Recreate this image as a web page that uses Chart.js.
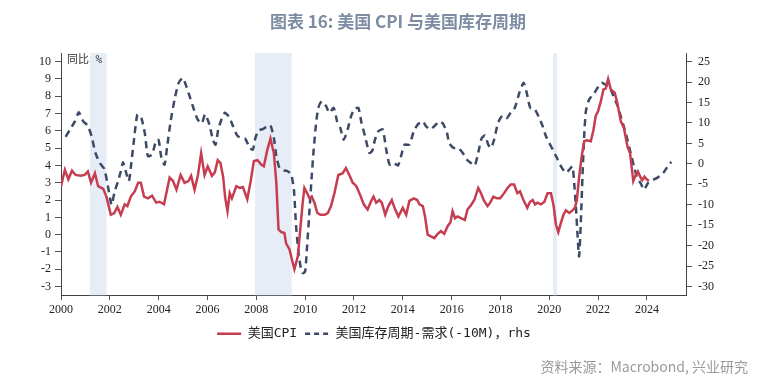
<!DOCTYPE html>
<html lang="zh">
<head>
<meta charset="UTF-8"/>
<title>美国 CPI 与美国库存周期</title>
<script src="https://cdn.jsdelivr.net/npm/chart.js@4.4.1/dist/chart.umd.min.js"></script>
<style>
  html, body { margin: 0; padding: 0; background: #fff; }
  #wrap { width: 759px; height: 385px; }
</style>
</head>
<body>
<div id="wrap"><canvas id="chart"></canvas></div>
<script>
// 美国CPI 同比 (%), left axis
const cpiDates = [2000.0,2000.16,2000.3,2000.45,2000.6,2000.8,2000.97,2001.1,2001.23,2001.39,2001.52,2001.73,2001.86,
  2002.04,2002.18,2002.31,2002.45,2002.61,2002.72,2002.86,2003.02,2003.16,2003.27,2003.4,2003.56,2003.73,2003.9,
  2004.04,2004.22,2004.45,2004.59,2004.73,2004.9,2005.06,2005.22,2005.33,2005.47,2005.61,2005.74,2005.88,2006.01,
  2006.18,2006.3,2006.42,2006.53,2006.64,2006.72,2006.82,2006.91,2007.0,2007.18,2007.32,2007.45,2007.63,2007.77,
  2007.9,2008.05,2008.2,2008.31,2008.45,2008.58,2008.72,2008.82,2008.91,2009.02,2009.15,2009.22,2009.36,2009.46,
  2009.56,2009.7,2009.8,2009.9,2009.97,2010.08,2010.18,2010.27,2010.38,2010.5,2010.63,2010.8,2010.93,2011.06,
  2011.2,2011.36,2011.54,2011.67,2011.81,2011.95,2012.1,2012.28,2012.4,2012.56,2012.69,2012.8,2012.91,2013.04,
  2013.14,2013.28,2013.41,2013.55,2013.66,2013.82,2014.0,2014.14,2014.27,2014.45,2014.59,2014.68,2014.82,2014.91,
  2015.02,2015.15,2015.29,2015.43,2015.56,2015.7,2015.84,2015.95,2016.04,2016.14,2016.24,2016.38,2016.54,2016.65,
  2016.79,2016.93,2017.09,2017.2,2017.31,2017.47,2017.58,2017.71,2017.85,2017.99,2018.15,2018.29,2018.42,2018.56,
  2018.69,2018.8,2018.94,2019.1,2019.21,2019.32,2019.42,2019.52,2019.66,2019.8,2019.93,2020.07,2020.18,2020.27,
  2020.37,2020.48,2020.58,2020.68,2020.82,2020.95,2021.05,2021.13,2021.22,2021.32,2021.43,2021.54,2021.7,2021.81,
  2021.9,2022.0,2022.11,2022.22,2022.31,2022.41,2022.52,2022.68,2022.79,2022.93,2023.06,2023.2,2023.31,2023.44,
  2023.54,2023.63,2023.74,2023.81,2023.9,2023.99,2024.08];
const cpiValues = [2.8,3.75,3.2,3.7,3.45,3.4,3.45,3.65,3.0,3.55,2.8,2.65,2.2,
  1.15,1.25,1.6,1.15,1.75,1.65,2.2,2.5,3.0,3.0,2.2,2.1,2.25,1.85,
  1.9,1.75,3.3,3.1,2.6,3.45,3.0,3.1,3.4,2.6,3.45,4.7,3.45,3.95,
  3.4,3.6,4.3,4.15,3.35,2.2,1.35,2.4,2.1,2.8,2.7,2.75,2.05,3.1,
  4.25,4.3,4.05,3.95,4.9,5.55,4.7,3.0,0.3,0.15,0.1,-0.5,-0.85,-1.45,
  -2.0,-1.25,0.3,1.85,2.7,2.4,2.1,2.2,1.85,1.25,1.15,1.15,1.25,1.65,
  2.4,3.45,3.55,3.85,3.45,3.0,2.8,2.2,1.75,1.45,1.9,2.2,1.85,2.0,
  1.85,1.15,1.65,2.0,1.55,1.05,1.55,1.15,1.95,2.1,2.0,1.75,1.65,1.05,
  0.0,-0.1,-0.2,0.05,0.2,0.05,0.5,0.7,1.35,0.95,1.05,0.95,0.85,1.45,
  1.7,2.0,2.7,2.4,2.0,1.65,1.85,2.2,2.1,2.1,2.4,2.7,2.9,2.9,
  2.4,2.5,2.0,1.55,1.9,2.0,1.75,1.85,1.75,1.9,2.4,2.4,1.65,0.6,
  0.15,0.7,1.15,1.4,1.25,1.4,1.55,2.0,3.3,4.45,5.4,5.45,5.4,6.05,
  6.85,7.15,7.7,8.4,8.45,9.0,8.4,8.2,7.6,6.55,6.15,5.1,4.7,3.1,
  3.45,3.65,3.3,3.15,3.35,3.2,3.1];

// 美国库存周期-需求(-10M), right axis
const invDates = [2000.19,2000.37,2000.57,2000.73,2000.91,2001.09,2001.25,2001.41,2001.59,2001.77,2001.9,2002.07,
  2002.2,2002.34,2002.45,2002.54,2002.65,2002.78,2002.88,2002.99,2003.13,2003.29,2003.43,2003.56,2003.73,2003.9,
  2004.0,2004.1,2004.24,2004.35,2004.49,2004.65,2004.82,2004.99,2005.13,2005.27,2005.44,2005.6,2005.77,2005.9,
  2006.08,2006.22,2006.33,2006.44,2006.57,2006.71,2006.87,2007.05,2007.22,2007.39,2007.55,2007.73,2007.86,2007.96,
  2008.1,2008.27,2008.45,2008.58,2008.72,2008.82,2008.95,2009.13,2009.29,2009.43,2009.54,2009.63,2009.73,2009.81,
  2009.9,2010.0,2010.08,2010.18,2010.27,2010.35,2010.45,2010.54,2010.68,2010.86,2010.99,2011.17,2011.31,2011.44,
  2011.58,2011.74,2011.88,2012.01,2012.18,2012.31,2012.45,2012.63,2012.75,2012.86,2013.0,2013.18,2013.32,2013.46,
  2013.63,2013.8,2013.93,2014.07,2014.27,2014.45,2014.61,2014.82,2014.95,2015.13,2015.29,2015.5,2015.65,2015.81,
  2015.9,2016.08,2016.27,2016.45,2016.63,2016.79,2016.95,2017.09,2017.23,2017.37,2017.5,2017.61,2017.74,2017.9,
  2018.08,2018.26,2018.43,2018.59,2018.77,2018.95,2019.08,2019.22,2019.41,2019.59,2019.73,2019.86,2020.0,2020.14,
  2020.31,2020.48,2020.68,2020.82,2020.95,2021.02,2021.09,2021.16,2021.22,2021.29,2021.36,2021.43,2021.5,2021.63,
  2021.84,2022.0,2022.14,2022.3,2022.45,2022.63,2022.8,2022.95,2023.09,2023.2,2023.33,2023.47,2023.6,2023.74,
  2023.88,2024.04,2024.22,2024.42,2024.56,2024.72,2024.9,2025.0];
const invValues = [6.6,8.4,10.4,12.6,10.4,9.4,6.8,2.7,0.2,-1.2,-4.7,-10,
  -6.7,-4.2,-1.8,0.4,-1.8,-4.2,0.2,5.9,12.1,11.2,7.6,1.9,2.3,5.8,
  5.8,1.9,-0.2,4.3,10.4,15.7,19.8,21,19,16.5,13.4,10.8,9.9,12.1,
  9.6,5.9,4.7,8.4,10.8,12.5,11.6,9.2,6.9,6.3,6.1,3.9,3.5,6.3,
  8.2,8.5,9.2,9.4,6.3,1.9,-1.0,-1.6,-1.8,-2.6,-6.3,-15.3,-21.8,-25,
  -26.7,-26.3,-20.1,-11.2,-3.0,3.5,10,13.7,15.3,14.1,12.5,13.7,10.4,8.8,
  5.9,8.4,11.6,13.4,13.7,10.0,6.8,2.7,3.2,5.9,8.0,8.4,3.5,-0.2,
  0.2,-0.4,1.9,4.7,4.7,8.0,9.6,10.4,9.2,8.4,9.2,10.4,9.8,7.6,
  5.1,3.9,3.9,2.7,1.0,0.2,-0.4,2.7,6.3,6.9,4.7,3.9,5.9,10.0,
  11.8,11.2,12.6,13.7,17.3,19.8,17.3,13.7,13.3,11.2,9.2,6.8,5.1,3.5,
  1.5,-0.6,-2.2,-1.4,-0.6,-4.7,-10.4,-17.7,-22.6,-14.5,-3.0,6.8,12.9,15.7,
  17.3,18.8,19.8,19.4,19.0,16.5,14.1,11.2,8.4,5.9,2.7,-0.6,-3.4,-4.7,
  -6.3,-4.7,-4.0,-3.4,-2.9,-1.8,-0.2,0.5];

// recession shading
const shadeStart = [2001.18, 2007.95, 2020.15];
const shadeEnd = [2001.86, 2009.45, 2020.32];

const xTicks = [2000,2002,2004,2006,2008,2010,2012,2014,2016,2018,2020,2022,2024];
const leftTicks = [-3,-2,-1,0,1,2,3,4,5,6,7,8,9,10];
const rightTicks = [-30,-25,-20,-15,-10,-5,0,5,10,15,20,25];

const toPoints = (xs, ys) => xs.map((x, i) => ({x: x, y: ys[i]}));

const decor = {
  id: 'decor',
  beforeDatasetsDraw(chart) {
    const {ctx, chartArea, scales} = chart;
    ctx.save();
    ctx.fillStyle = '#e7edf6';
    for (let i = 0; i < shadeStart.length; i++) {
      const a = scales.x.getPixelForValue(shadeStart[i]);
      const b = scales.x.getPixelForValue(shadeEnd[i]);
      ctx.fillRect(a, chartArea.top, b - a, chartArea.bottom - chartArea.top);
    }
    ctx.fillStyle = '#333';
    ctx.font = '11px "DejaVu Sans Mono", "Noto Sans CJK SC"';
    ctx.textBaseline = 'middle';
    ctx.fillText('同比 %', chartArea.left + 6, chartArea.top + 7);
    ctx.restore();
  },
  afterDraw(chart) {
    const ctx = chart.ctx;
    ctx.save();
    ctx.fillStyle = '#7d8ca2';
    ctx.font = 'bold 17px "Noto Sans CJK SC"';
    ctx.textAlign = 'center';
    ctx.textBaseline = 'middle';
    ctx.fillText('图表 16: 美国 CPI 与美国库存周期', 398, 22);
    ctx.restore();
  }
};

const tickFont = {family: '"Liberation Serif"', size: 12};

new Chart(document.getElementById('chart'), {
  type: 'line',
  data: {
    datasets: [{
      label: '美国CPI',
      data: toPoints(cpiDates, cpiValues),
      borderColor: '#c63d50',
      backgroundColor: '#c63d50',
      borderWidth: 2.5,
      pointRadius: 0,
      tension: 0,
      yAxisID: 'y'
    }, {
      label: '美国库存周期-需求(-10M)，rhs',
      data: toPoints(invDates, invValues),
      borderColor: '#3c4a66',
      backgroundColor: '#3c4a66',
      borderWidth: 2.5,
      borderDash: [7, 5],
      pointRadius: 0,
      tension: 0.2,
      yAxisID: 'y2'
    }]
  },
  options: {
    responsive: true,
    maintainAspectRatio: false,
    animation: false,
    layout: {padding: {top: 53, right: 11, left: 0, bottom: 0}},
    plugins: {
      title: {display: false},
      tooltip: {enabled: false},
      legend: {
        position: 'bottom',
        labels: {
          usePointStyle: true,
          pointStyle: 'line',
          pointStyleWidth: 24,
          color: '#222',
          padding: 8,
          font: {family: '"DejaVu Sans Mono", "Noto Sans CJK SC"', size: 13},
          generateLabels(chart) {
            const items = Chart.defaults.plugins.legend.labels.generateLabels(chart);
            return items.map(item => {
              const ds = chart.data.datasets[item.datasetIndex];
              item.strokeStyle = ds.borderColor;
              item.lineWidth = 2.5;
              item.lineDash = ds.borderDash ? [5, 4] : [];
              item.pointStyle = 'line';
              return item;
            });
          }
        }
      },
      subtitle: {
        display: true,
        position: 'bottom',
        align: 'end',
        text: '资料来源：Macrobond, 兴业研究',
        color: '#9a9a9a',
        font: {family: '"Noto Sans CJK SC"', size: 14},
        padding: {top: 8, bottom: 10}
      }
    },
    scales: {
      x: {
        type: 'linear',
        min: 2000,
        max: 2025.6,
        afterBuildTicks: s => { s.ticks = xTicks.map(v => ({value: v})); },
        afterFit: s => { s.height = 24; },
        ticks: {color: '#222', font: tickFont, padding: 2, maxRotation: 0, callback: v => String(v)},
        grid: {drawOnChartArea: false, tickLength: 5, color: '#555'},
        border: {color: '#444', width: 1}
      },
      y: {
        position: 'left',
        min: -3.5,
        max: 10.5,
        afterBuildTicks: s => { s.ticks = leftTicks.map(v => ({value: v})); },
        afterFit: s => { s.width = 61; },
        ticks: {color: '#222', font: tickFont, padding: 4},
        grid: {drawOnChartArea: false, tickLength: 6, color: '#555'},
        border: {color: '#444', width: 1}
      },
      y2: {
        position: 'right',
        min: -32.1,
        max: 27.1,
        afterBuildTicks: s => { s.ticks = rightTicks.map(v => ({value: v})); },
        afterFit: s => { s.width = 62; },
        ticks: {color: '#222', font: tickFont, padding: 6},
        grid: {drawOnChartArea: false, tickLength: 6, color: '#555'},
        border: {color: '#444', width: 1}
      }
    }
  },
  plugins: [decor]
});
</script>
</body>
</html>
